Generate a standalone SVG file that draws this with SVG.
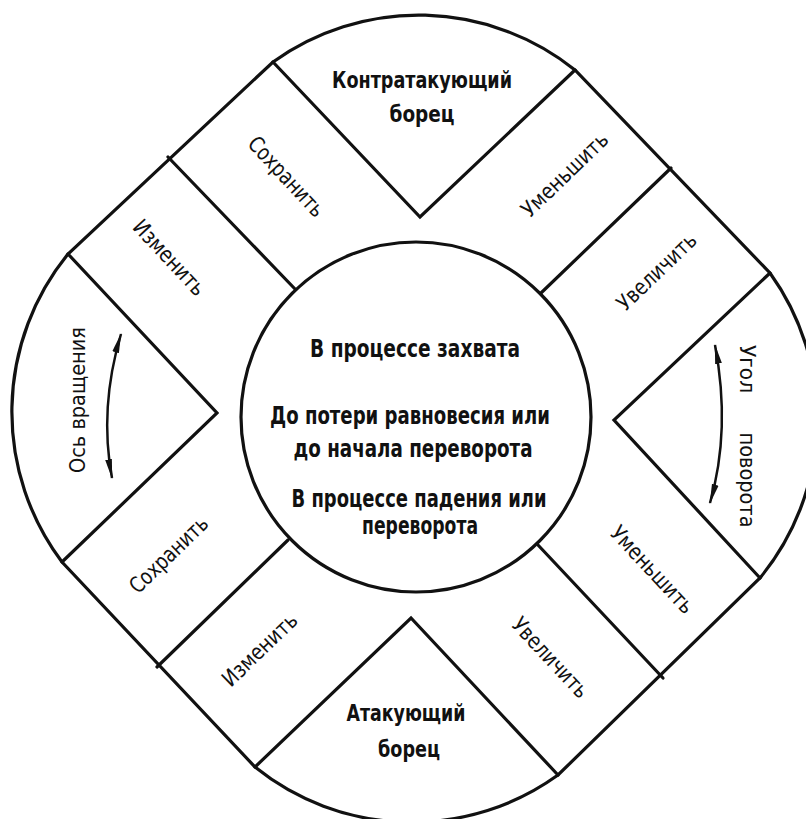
<svg xmlns="http://www.w3.org/2000/svg" width="806" height="819" viewBox="0 0 806 819">
<style>
 .ln{fill:none;stroke:#111;stroke-width:3.2;stroke-linejoin:miter;stroke-linecap:round}
 .ar{fill:none;stroke:#111;stroke-width:2.5}
 text{font-family:"DejaVu Sans Condensed","DejaVu Sans","Liberation Sans Narrow",sans-serif;font-stretch:condensed;fill:#111;text-anchor:middle}
 .c{font-size:25px;font-weight:bold}
 .h{font-size:23px;font-weight:bold}
 .v{font-size:22px}
 .r{font-size:22px}
</style>
<defs>
 <marker id="ah" markerUnits="userSpaceOnUse" markerWidth="20" markerHeight="8" refX="19" refY="4" orient="auto-start-reverse" viewBox="0 0 20 8"><path d="M0,0.6 L20,4 L0,7.4 Z" fill="#111"/></marker>
</defs>
<rect width="806" height="819" fill="#fff"/>

<g id="outline">
 <path class="ln" d="M273,62 A250,250 0 0 1 575,70 L770,273 A250,250 0 0 1 760,578 L558,775 A250,250 0 0 1 255,767 L62,562 A250,250 0 0 1 68,254 Z"/>
</g>

<g id="connectors">
 <polyline class="ln" points="273,62 420,217 575,70"/>
 <polyline class="ln" points="68,254 217,413 62,562"/>
 <polyline class="ln" points="770,273 614,420 760,578"/>
 <polyline class="ln" points="255,767 411,618 558,775"/>
 <line class="ln" x1="168" y1="157" x2="295" y2="289"/>
 <line class="ln" x1="671" y1="168" x2="541" y2="293"/>
 <line class="ln" x1="538" y1="545" x2="663" y2="678"/>
 <line class="ln" x1="288" y1="540" x2="157" y2="667"/>
</g>

<g id="center">
 <circle class="ln" cx="416" cy="417" r="175"/>
 <text class="c" x="415" y="357" textLength="210" lengthAdjust="spacingAndGlyphs">В процессе захвата</text>
 <text class="c" x="410" y="424" textLength="280" lengthAdjust="spacingAndGlyphs">До потери равновесия или</text>
 <text class="c" x="413" y="457" textLength="239" lengthAdjust="spacingAndGlyphs">до начала переворота</text>
 <text class="c" x="419" y="507" textLength="255" lengthAdjust="spacingAndGlyphs">В процессе падения или</text>
 <text class="c" x="420" y="534" textLength="116" lengthAdjust="spacingAndGlyphs">переворота</text>
</g>

<g id="counter-attacker">
 <text class="h" x="422" y="88" textLength="180" lengthAdjust="spacingAndGlyphs">Контратакующий</text>
 <text class="h" x="422" y="122" textLength="65" lengthAdjust="spacingAndGlyphs">борец</text>
</g>

<g id="attacker">
 <text class="h" x="406" y="721" textLength="119" lengthAdjust="spacingAndGlyphs">Атакующий</text>
 <text class="h" x="409" y="757" textLength="62" lengthAdjust="spacingAndGlyphs">борец</text>
</g>

<g id="axis">
 <text class="v" transform="translate(85,400) rotate(-90)" x="0" y="0" textLength="146" lengthAdjust="spacingAndGlyphs">Ось вращения</text>
 <path class="ar" d="M121,334 Q99,408 112,478" marker-start="url(#ah)" marker-end="url(#ah)"/>
</g>

<g id="angle">
 <text class="v" transform="translate(740,369) rotate(90)" x="0" y="0" textLength="48" lengthAdjust="spacingAndGlyphs">Угол</text>
 <text class="v" transform="translate(740,480) rotate(90)" x="0" y="0" textLength="95" lengthAdjust="spacingAndGlyphs">поворота</text>
 <path class="ar" d="M715,345 Q731,430 710,503" marker-start="url(#ah)" marker-end="url(#ah)"/>
</g>

<g id="tl-keep"><text class="r" transform="translate(286,177) rotate(47)" y="7" textLength="101" lengthAdjust="spacingAndGlyphs">Сохранить</text></g>
<g id="tl-change"><text class="r" transform="translate(169,258) rotate(47)" y="7" textLength="95" lengthAdjust="spacingAndGlyphs">Изменить</text></g>
<g id="tr-decrease"><text class="r" transform="translate(565,175) rotate(-44)" y="7" textLength="111" lengthAdjust="spacingAndGlyphs">Уменьшить</text></g>
<g id="tr-increase"><text class="r" transform="translate(657,272) rotate(-44)" y="7" textLength="101" lengthAdjust="spacingAndGlyphs">Увеличить</text></g>
<g id="br-decrease"><text class="r" transform="translate(652,570) rotate(47)" y="7" textLength="111" lengthAdjust="spacingAndGlyphs">Уменьшить</text></g>
<g id="br-increase"><text class="r" transform="translate(550,658) rotate(47)" y="7" textLength="101" lengthAdjust="spacingAndGlyphs">Увеличить</text></g>
<g id="bl-keep"><text class="r" transform="translate(169,555) rotate(-44)" y="7" textLength="100" lengthAdjust="spacingAndGlyphs">Сохранить</text></g>
<g id="bl-change"><text class="r" transform="translate(260,650) rotate(-44)" y="7" textLength="95" lengthAdjust="spacingAndGlyphs">Изменить</text></g>
</svg>
